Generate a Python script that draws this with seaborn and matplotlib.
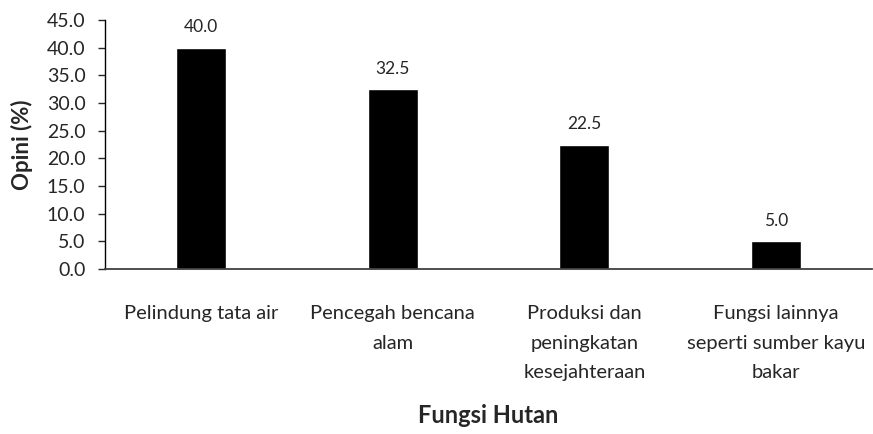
import matplotlib
matplotlib.use('Agg')
import matplotlib.pyplot as plt
import seaborn as sns
import pandas as pd

# data
categories = ['Pelindung tata air', 'Pencegah bencana\nalam',
              'Produksi dan\npeningkatan\nkesejahteraan',
              'Fungsi lainnya\nseperti sumber kayu\nbakar']
opini = [40.0, 32.5, 22.5, 5.0]
yticks = [0, 5, 10, 15, 20, 25, 30, 35, 40, 45]

sns.set_style('white')
plt.rcParams['font.family'] = ['Lato', 'DejaVu Sans']

df = pd.DataFrame({'fungsi': categories, 'opini': opini})

fig = plt.figure(figsize=(8.73, 4.34), dpi=100)
ax = fig.add_axes([105 / 873, 1 - 269 / 434, 767 / 873, 249 / 434])
sns.barplot(data=df, x='fungsi', y='opini', color='black', width=0.26,
            saturation=1, ax=ax)

for i, v in enumerate(opini):
    ax.annotate(f'{v:.1f}', (i, v), xytext=(0, 9), textcoords='offset points',
                ha='center', va='bottom', fontsize=12.5)

ax.set_ylim(0, 45)
ax.set_yticks(yticks)
ax.set_yticklabels([f'{t:.1f}' for t in yticks], fontsize=14)
ax.set_xticks(range(len(categories)))
ax.set_xticklabels(categories, fontsize=14.5, linespacing=1.9)
ax.tick_params(axis='x', length=0, pad=26)
ax.tick_params(axis='y', length=5, width=1, direction='out', left=True, pad=9)

for s in ['top', 'right']:
    ax.spines[s].set_visible(False)
ax.spines['left'].set_color('#000000')
ax.spines['bottom'].set_color('#404040')
ax.spines['left'].set_linewidth(1)
ax.spines['bottom'].set_linewidth(1.3)

ax.set_xlabel('Fungsi Hutan', fontsize=17, fontweight='bold', labelpad=16)
ax.set_ylabel('Opini (%)', fontsize=16, fontweight='bold', labelpad=10)

fig.savefig('out.png', dpi=100)
